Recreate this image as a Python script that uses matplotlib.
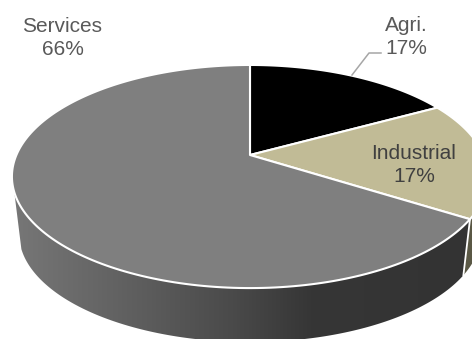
import numpy as np
import matplotlib
matplotlib.use('Agg')
import matplotlib.pyplot as plt
from matplotlib.colors import LinearSegmentedColormap
from matplotlib.patches import Polygon

categorias = ['Agri.', 'Industrial', 'Services']
valores = [17, 17, 66]
cores = ['#000000', '#C1BB96', '#7F7F7F']
cores_lado = {'Industrial': '#5A5845'}

plt.rcParams['font.family'] = ['Liberation Sans', 'DejaVu Sans']

# disco visto em perspectiva: centro das fatias, raios e fator de fuga
CX, CY = 250, 155
RX, RY = 233.6, 107.4
K = 0.193
# base do disco
CY_BASE, ESCALA_BASE = 213, 0.97
ANG_LADO_ESQ = 251


def projeta(theta, cy=CY, escala=1.0):
    t = np.radians(theta)
    u, v = np.sin(t), np.cos(t)
    d = 1 + K * v
    return np.column_stack((CX + escala * RX * u / d, cy - escala * RY * v / d))


fig = plt.figure(figsize=(4.72, 3.39), dpi=100)
ax = fig.add_axes([0, 0, 1, 1])
ax.set_xlim(0, 472)
ax.set_ylim(339, 0)
ax.axis('off')

limites = np.cumsum([0] + valores) * 360 / sum(valores)

# lateral do disco (Services com degrade, Industrial liso)
ang_ind = limites[2]
angs = np.linspace(ang_ind, ANG_LADO_ESQ, 200)
lado = np.vstack((projeta(angs), projeta(angs[::-1], CY_BASE, ESCALA_BASE)))
mapa = LinearSegmentedColormap.from_list('lado', [(0, '#777777'), (0.25, '#606060'), (0.48, '#4A4A4A'),
                                                  (0.65, '#363636'), (1, '#333333')])
img = ax.imshow(np.linspace(0, 1, 256).reshape(1, -1), cmap=mapa, vmin=0, vmax=1, aspect='auto',
                extent=(12, 472, 339, 150), zorder=1)
img.set_clip_path(Polygon(lado, closed=True, transform=ax.transData))

angs = np.linspace(limites[1], ang_ind, 60)
lado_ind = np.vstack((projeta(angs), projeta(angs[::-1], CY_BASE, ESCALA_BASE)))
ax.add_patch(Polygon(lado_ind, closed=True, fc=cores_lado['Industrial'], ec='none', zorder=1))

# linha branca vertical entre as laterais
ax.plot(*np.vstack((projeta(ang_ind), projeta(ang_ind, CY_BASE, ESCALA_BASE))).T,
        color='white', lw=1.3, zorder=2)

# topo: fatias
for i in range(len(valores)):
    angs = np.linspace(limites[i], limites[i + 1], 200)
    pts = np.vstack(([[CX, CY]], projeta(angs)))
    ax.add_patch(Polygon(pts, closed=True, fc=cores[i], ec='white', lw=1.5, joinstyle='round', zorder=3))

# rotulos
ax.text(62.5, 38, f'{categorias[2]}\n{valores[2]}%', ha='center', va='center', fontsize=15,
        color='#595959', linespacing=1.27, zorder=5)
ax.text(406, 37, f'{categorias[0]}\n{valores[0]}%', ha='center', va='center', fontsize=15,
        color='#595959', linespacing=1.27, zorder=5)
ax.text(414, 165, f'{categorias[1]}\n{valores[1]}%', ha='center', va='center', fontsize=15,
        color='#404040', linespacing=1.27, zorder=5)
ax.plot([352, 369, 381], [75, 53, 53], color='#A6A6A6', lw=1.1, zorder=4)

fig.savefig('out.png', dpi=100)
